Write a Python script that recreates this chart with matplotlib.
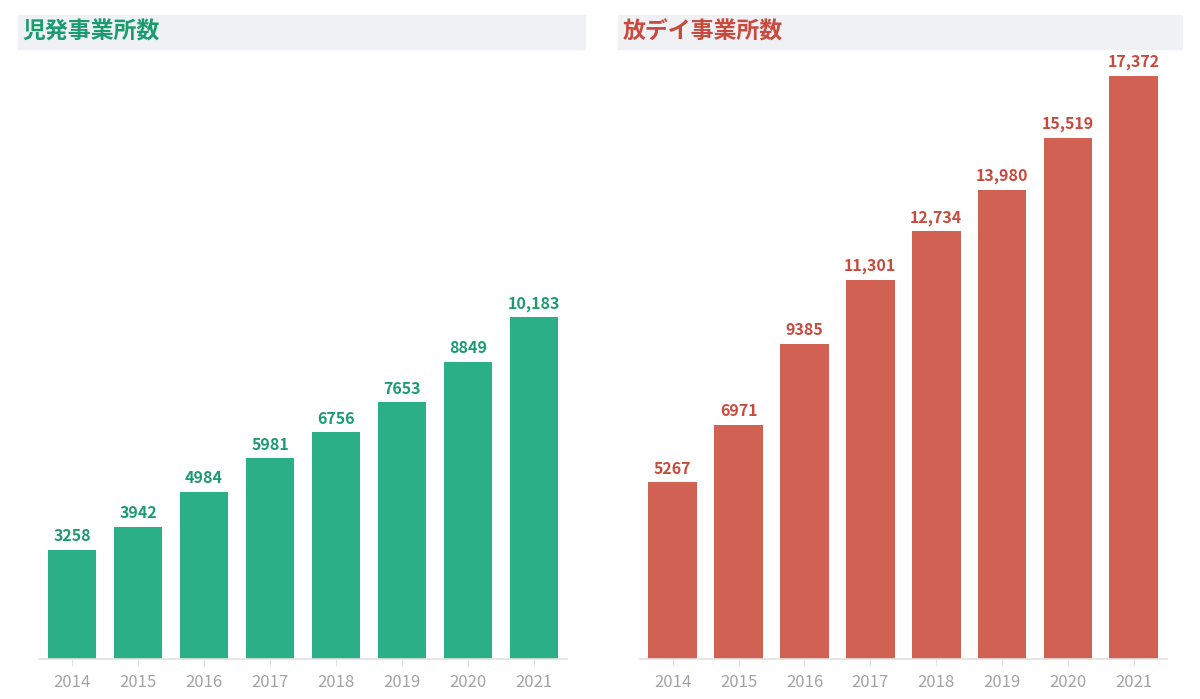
import matplotlib.pyplot as plt
from matplotlib.patches import Rectangle

plt.rcParams['font.family'] = ['Noto Sans CJK JP', 'DejaVu Sans']

years = ['2014', '2015', '2016', '2017', '2018', '2019', '2020', '2021']
jihatsu = [3258, 3942, 4984, 5981, 6756, 7653, 8849, 10183]
houdei = [5267, 6971, 9385, 11301, 12734, 13980, 15519, 17372]

panels = [
    ('児発事業所数', jihatsu, '#2aaf87', '#1b9c6f', [0.0325, 0.0572, 0.44, 0.857], 0.015),
    ('放デイ事業所数', houdei, '#d16153', '#c94a3c', [0.5332, 0.0572, 0.439, 0.857], 0.515),
]

fig = plt.figure(figsize=(12, 6.99), dpi=100)

for title, vals, bar_c, text_c, pos, bx in panels:
    ax = fig.add_axes(pos)
    x = list(range(len(years)))
    ax.bar(x, vals, width=0.74, color=bar_c)
    for xi, v in zip(x, vals):
        lab = f'{v:,}' if v >= 10000 else str(v)
        ax.annotate(lab, (xi, v), xytext=(0, 4), textcoords='offset points',
                    ha='center', va='bottom', fontsize=11.5, fontweight='bold',
                    color=text_c)
    ax.set_xlim(-0.5, 7.5)
    ax.set_ylim(0, 17843)
    ax.set_xticks(x)
    ax.set_xticklabels(years)
    ax.set_yticks([])
    for s in ['top', 'right', 'left']:
        ax.spines[s].set_visible(False)
    ax.spines['bottom'].set_color('#e2e2e2')
    ax.spines['bottom'].set_linewidth(1.2)
    ax.tick_params(axis='x', length=5, color='#e2e2e2', labelsize=12,
                   labelcolor='#a3a3a3', pad=6)

    fig.patches.append(Rectangle((bx, 0.9299), 0.4725 if bx < 0.5 else 0.47, 0.0486,
                                 transform=fig.transFigure, color='#eff1f5',
                                 zorder=0))
    fig.text(bx + 0.0035, 0.954, title, fontsize=16.5, fontweight='bold',
             color=text_c, va='center', ha='left')

fig.savefig('out.png', dpi=100)
